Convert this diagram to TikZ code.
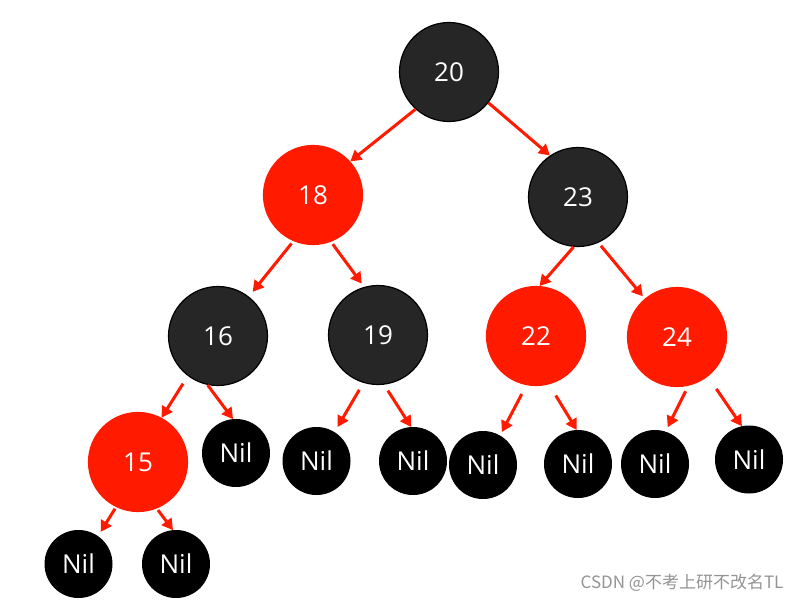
\documentclass[tikz,border=0pt]{standalone}
\usepackage{fontspec}
\setmainfont{Open Sans}
\newfontfamily\cjkfont{Noto Sans CJK SC}
\usetikzlibrary{arrows.meta}
\definecolor{rbred}{HTML}{FF1A00}
\definecolor{rbdark}{HTML}{262626}
\tikzset{
blacknode/.style={
	circle,
	minimum size=99pt,
	inner sep=0pt,
	draw=black,
	line width=1.2pt,
	fill=rbdark,
	text=white,
	font=\fontsize{26}{30}\selectfont
},
rednode/.style={
	blacknode,
	draw=rbred,
	fill=rbred
},
nilnode/.style={
	circle,
	minimum size=67pt,
	inner sep=0pt,
	draw=black,
	line width=1pt,
	fill=black,
	text=white,
	font=\fontsize{26}{30}\selectfont
},
edge/.style={
	draw=rbred,
	line width=3pt,
	-{Triangle[length=11pt,width=12pt]}
}
}
\begin{document}
\begin{tikzpicture}[x=1pt, y=-1pt]
\useasboundingbox (0,0) rectangle (802,602);
% ===== Inner nodes =====
\node (n20) [blacknode] at (449, 72)  {20};
\node (n18) [rednode]   at (313, 195) {18};
\node (n23) [blacknode] at (578, 197) {23};
\node (n16) [blacknode] at (218, 336) {16};
\node (n19) [blacknode] at (378, 335) {19};
\node (n22) [rednode]   at (536, 336) {22};
\node (n24) [rednode]   at (677, 337) {24};
\node (n15) [rednode]   at (138, 462) {15};
% ===== Leaves =====
\node (nil16r) [nilnode] at (236, 453)   {Nil};
\node (nil19l) [nilnode] at (316.5, 461) {Nil};
\node (nil19r) [nilnode] at (413, 461)   {Nil};
\node (nil22l) [nilnode] at (483, 465)   {Nil};
\node (nil22r) [nilnode] at (578, 464)   {Nil};
\node (nil24l) [nilnode] at (655, 464)   {Nil};
\node (nil24r) [nilnode] at (749, 459.5) {Nil};
\node (nil15l) [nilnode] at (78.5, 564)  {Nil};
\node (nil15r) [nilnode] at (176, 564)   {Nil};
% ===== Edges =====
\draw [edge] (n20.-132) -- (n18.42);
\draw [edge] (n20.-38)  -- (n23.124);
\draw [edge, shorten <=3pt, shorten >=6pt] (n18.-113) -- (n16.52);
\draw [edge, shorten <=3pt, shorten >=4pt] (n18.-69)  -- (n19.106);
\draw [edge] (n23.-95) -- (n22.86);
\draw [edge, shorten <=4pt, shorten >=3pt] (n23.-66)  -- (n24.130);
\draw [edge, shorten <=9pt] (n16.-127) -- (n15.62);
\draw [edge] (n16.-102) -- (nil16r.95);
\draw [edge, shorten <=8pt, shorten >=6pt] (n19.-107) -- (nil19l.58);
\draw [edge, shorten <=7pt] (n19.-83) -- (nil19r.93);
\draw [edge, shorten <=10pt, shorten >=4pt] (n22.-101) -- (nil22l.60);
\draw [edge, shorten <=13pt] (n22.-75) -- (nil22r.92);
\draw [edge, shorten <=6pt, shorten >=5pt] (n24.-77) -- (nil24l.72);
\draw [edge, shorten <=15pt] (n24.-52) -- (nil24r.102);
\draw [edge, shorten <=2pt, shorten >=5pt] (n15.-116) -- (nil15l.55);
\draw [edge, shorten <=2pt] (n15.-68) -- (nil15r.95);
% watermark
\node (mark) [text=gray!85, font=\cjkfont\fontsize{17}{20}\selectfont] at (682, 583) {CSDN @不考上研不改名TL};
\end{tikzpicture}
\end{document}
